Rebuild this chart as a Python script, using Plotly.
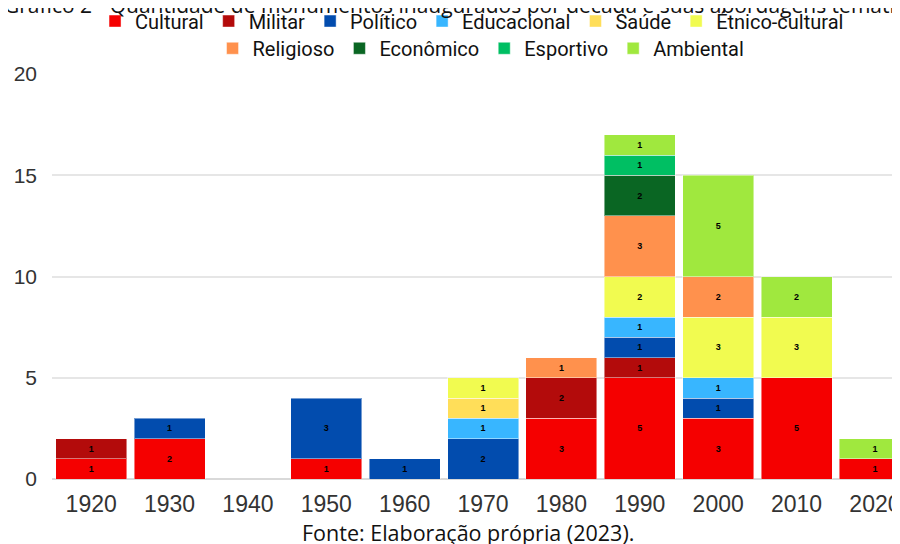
import plotly.graph_objects as go

decades = ["1920", "1930", "1940", "1950", "1960", "1970", "1980", "1990", "2000", "2010", "2020"]

cultural = [1, 2, 0, 1, 0, 0, 3, 5, 3, 5, 1]
militar = [1, 0, 0, 0, 0, 0, 2, 1, 0, 0, 0]
politico = [0, 1, 0, 3, 1, 2, 0, 1, 1, 0, 0]
educacional = [0, 0, 0, 0, 0, 1, 0, 1, 1, 0, 0]
saude = [0, 0, 0, 0, 0, 1, 0, 0, 0, 0, 0]
etnico = [0, 0, 0, 0, 0, 1, 0, 2, 3, 3, 0]
religioso = [0, 0, 0, 0, 0, 0, 1, 3, 2, 0, 0]
economico = [0, 0, 0, 0, 0, 0, 0, 2, 0, 0, 0]
esportivo = [0, 0, 0, 0, 0, 0, 0, 1, 0, 0, 0]
ambiental = [0, 0, 0, 0, 0, 0, 0, 1, 5, 2, 1]

series = [
    ("Cultural", cultural, "#f50000", "legend"),
    ("Militar", militar, "#b30b0b", "legend"),
    ("Político", politico, "#024cae", "legend"),
    ("Educacional", educacional, "#38b6ff", "legend"),
    ("Saúde", saude, "#ffde59", "legend"),
    ("Étnico-cultural", etnico, "#f1fb50", "legend"),
    ("Religioso", religioso, "#ff914d", "legend2"),
    ("Econômico", economico, "#0a6623", "legend2"),
    ("Esportivo", esportivo, "#00bf63", "legend2"),
    ("Ambiental", ambiental, "#a0e83e", "legend2"),
]

fig = go.Figure()
for name, vals, color, leg in series:
    ys = [v if v else None for v in vals]
    fig.add_trace(go.Bar(
        x=decades, y=ys, name=name, legend=leg,
        marker=dict(color=color, line=dict(color="rgba(255,255,255,0.45)", width=1)),
        text=[f"<b>{v}</b>" if v else "" for v in vals],
        textposition="inside", insidetextanchor="middle",
        textfont=dict(size=9, color="black", family="Liberation Sans"),
        textangle=0,
    ))

# the page adds an 8px body margin, so the layout is shifted up/left by 8px
legend_font = dict(size=20, family="Roboto", color="#111111")
fig.update_layout(
    barmode="stack",
    bargap=0.095,
    width=900, height=544,
    margin=dict(l=44, r=8, t=66, b=73, autoexpand=False),
    plot_bgcolor="white", paper_bgcolor="white",
    font=dict(family="Liberation Sans", color="#333333"),
    uniformtext=dict(minsize=9, mode="show"),
    legend=dict(orientation="h", x=0.5156, xanchor="center", y=0.976, yanchor="middle",
                xref="container", yref="container", traceorder="normal",
                font=legend_font),
    legend2=dict(orientation="h", x=0.5256, xanchor="center", y=0.926, yanchor="middle",
                 xref="container", yref="container", traceorder="normal",
                 font=legend_font),
    showlegend=True,
)
fig.update_xaxes(range=[-0.5, 10.32], showgrid=False, ticks="", showline=False,
                 tickfont=dict(size=23, color="#333333"), ticklabelstandoff=9)
fig.update_yaxes(range=[0, 20], dtick=5, showgrid=True,
                 gridcolor="#e6e6e6", gridwidth=1.5,
                 zeroline=True, zerolinecolor="#d9d9d9", zerolinewidth=2,
                 tickfont=dict(size=21, color="#333333"), ticklabelstandoff=14)

fig.add_annotation(text="Gráfico 2 - Quantidade de monumentos inaugurados por década e suas abordagens temáticas",
                   x=0.488, y=1.170, xref="paper", yref="paper", yanchor="middle", showarrow=False,
                   font=dict(size=21, family="Open Sans", color="#111111"))
fig.add_annotation(text="Fonte: Elaboração própria (2023).",
                   x=0.491, y=-0.131, xref="paper", yref="paper", yanchor="middle", showarrow=False,
                   font=dict(size=21.5, family="Open Sans", color="#111111"))

fig.write_html("out.html")
